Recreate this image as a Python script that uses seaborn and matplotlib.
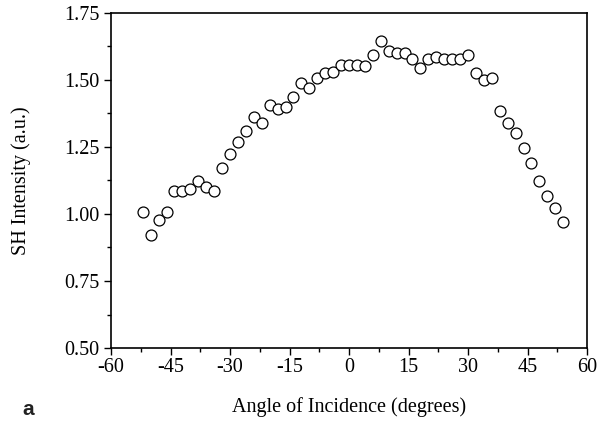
import numpy as np
import pandas as pd
import matplotlib
matplotlib.use("Agg")
import matplotlib.pyplot as plt
from matplotlib.ticker import MultipleLocator
import seaborn as sns

# Angle of incidence (degrees) and measured second-harmonic intensity
angle = [-52, -50, -48, -46, -44, -42, -40, -38, -36, -34,
         -32, -30, -28, -26, -24, -22, -20, -18, -16, -14,
         -12, -10, -8, -6, -4, -2, 0, 2, 4, 6,
         8, 10, 12, 14, 16, 18, 20, 22, 24, 26,
         28, 30, 32, 34, 36, 38, 40, 42, 44, 46,
         48, 50, 52, 54]
intensity = [1.007, 0.922, 0.978, 1.008, 1.085, 1.085, 1.092, 1.122, 1.100, 1.085,
             1.170, 1.222, 1.268, 1.310, 1.362, 1.338, 1.408, 1.392, 1.400, 1.437,
             1.487, 1.470, 1.508, 1.525, 1.530, 1.555, 1.555, 1.555, 1.553, 1.595,
             1.647, 1.608, 1.600, 1.600, 1.578, 1.545, 1.577, 1.585, 1.578, 1.577,
             1.577, 1.592, 1.525, 1.500, 1.508, 1.385, 1.338, 1.302, 1.247, 1.190,
             1.122, 1.068, 1.022, 0.970]

x_ticks = [-60, -45, -30, -15, 0, 15, 30, 45, 60]
y_ticks = [0.50, 0.75, 1.00, 1.25, 1.50, 1.75]

df = pd.DataFrame({"angle": angle, "intensity": intensity})

sns.set_theme(style="ticks")
plt.rcParams["font.family"] = ["Liberation Serif", "DejaVu Serif"]

fig = plt.figure(figsize=(6.04, 4.23), dpi=100)
ax = fig.add_axes([0.1838, 0.1773, 0.9719 - 0.1838, 0.9693 - 0.1773])

sns.scatterplot(data=df, x="angle", y="intensity", ax=ax,
                marker="o", s=62, facecolor="white", edgecolor="black",
                linewidth=0.9, legend=False, zorder=3)

ax.set_xlim(-60, 60)
ax.set_ylim(0.5, 1.75)
ax.set_xticks(x_ticks)
ax.set_xticklabels([f"{v:d}" for v in x_ticks])
ax.set_yticks(y_ticks)
ax.set_yticklabels([f"{v:.2f}" for v in y_ticks])
ax.xaxis.set_minor_locator(MultipleLocator(7.5))
ax.yaxis.set_minor_locator(MultipleLocator(0.125))

ax.tick_params(axis="both", which="major", direction="out", length=5,
               width=1.0, color="black", labelsize=14.5, pad=2,
               labelcolor="black")
ax.tick_params(axis="y", which="major", pad=3.5)
ax.tick_params(axis="both", which="minor", direction="out", length=3,
               width=1.0, color="black")
ax.tick_params(top=False, right=False, which="both")

for sp in ax.spines.values():
    sp.set_visible(True)
    sp.set_color("black")
    sp.set_linewidth(1.2)

ax.set_xlabel("Angle of Incidence (degrees)", fontsize=14.5, labelpad=14.5,
              color="black")
ax.set_ylabel("SH Intensity (a.u.)", fontsize=14.5, labelpad=24,
              color="black")

fig.text(0.037, 0.020, "a", fontsize=15, fontweight="bold",
         family=["Liberation Sans", "DejaVu Sans"], color="#222222")

fig.savefig("out.png", dpi=100, facecolor="white")
